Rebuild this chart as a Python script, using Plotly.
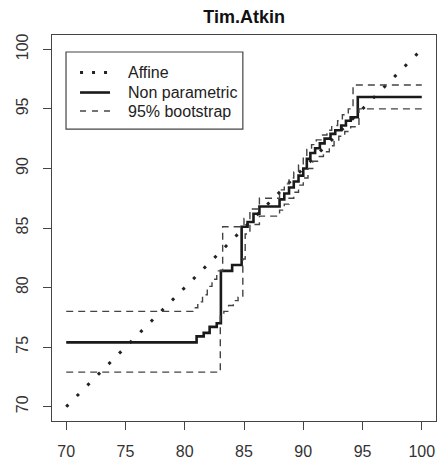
import plotly.graph_objects as go

# Affine fit (identity line over the score range)
affine_x = [70, 100]
affine_y = [70, 100]

# Non-parametric step estimate: y changes at each x
np_x = [70, 81.0, 81.6, 82.1, 82.7, 83.05, 84.0, 84.8, 85.3, 85.8, 86.3, 88.0, 88.4,
        88.8, 89.2, 89.6, 90.0, 90.3, 90.6, 91.0, 91.4, 91.8, 92.3, 92.7, 93.2, 93.6,
        94.0, 94.6, 100]
np_y = [75.4, 75.9, 76.2, 76.7, 77.0, 81.4, 81.9, 85.1, 85.5, 86.2, 86.8, 87.4, 87.9,
        88.4, 88.9, 89.4, 90.0, 90.8, 91.3, 91.7, 92.1, 92.5, 92.9, 93.2, 93.6, 94.0,
        94.3, 96.0, 96.0]

# 95% bootstrap band, upper bound
up_x = [70, 80.7, 81.1, 81.5, 81.9, 82.3, 82.7, 83.2, 85.0, 85.5, 86.3, 88.0, 88.4,
        88.8, 89.2, 89.6, 90.0, 90.3, 90.7, 91.1, 91.5, 92.0, 92.4, 92.9, 93.3, 93.8,
        94.2, 100]
up_y = [78.0, 78.3, 78.8, 79.4, 80.1, 80.7, 81.4, 85.1, 85.8, 86.6, 87.5, 88.2, 88.7,
        89.2, 89.7, 90.3, 91.0, 91.6, 92.0, 92.4, 92.8, 93.2, 93.6, 94.0, 94.5, 95.0,
        97.0, 97.0]

# 95% bootstrap band, lower bound
lo_x = [70, 83.0, 83.3, 83.7, 84.1, 84.5, 84.9, 85.1, 85.5, 86.3, 88.0, 88.4, 88.8,
        89.2, 89.6, 90.0, 90.4, 90.8, 91.2, 91.7, 92.2, 92.6, 93.0, 93.5, 94.0, 94.7,
        100]
lo_y = [72.9, 77.6, 78.0, 78.5, 78.9, 79.2, 82.4, 84.5, 85.3, 86.0, 86.5, 87.0, 87.5,
        88.0, 88.6, 89.2, 90.0, 90.6, 91.0, 91.4, 91.9, 92.3, 92.7, 93.1, 93.5, 95.0,
        95.0]

ticks = [70, 75, 80, 85, 90, 95, 100]
legend_labels = ["Affine", "Non parametric", "95% bootstrap"]

FONT = "Liberation Sans"
DOT = dict(color="#222222", width=3, dash="3px,12px")
SOLID = dict(color="#1a1a1a", width=2.6)
DASH = dict(color="#444444", width=1.4, dash="7px,5px")

fig = go.Figure()
fig.add_trace(go.Scatter(x=affine_x, y=affine_y, mode="lines", line=DOT))
fig.add_trace(go.Scatter(x=np_x, y=np_y, mode="lines", line=dict(**SOLID, shape="hv")))
fig.add_trace(go.Scatter(x=up_x, y=up_y, mode="lines", line=dict(**DASH, shape="hv")))
fig.add_trace(go.Scatter(x=lo_x, y=lo_y, mode="lines", line=dict(**DASH, shape="hv")))

# Legend box drawn in the upper-left corner of the panel (paper coordinates)
fig.add_shape(type="rect", xref="paper", yref="paper",
              x0=0.0365, x1=0.497, y0=0.756, y1=0.956,
              line=dict(color="#444444", width=1.2), fillcolor="white", layer="above")
row_y = [0.903, 0.851, 0.803]
sample_styles = [dict(DOT, dash="3px,9px"), SOLID, dict(DASH, dash="6px,6px")]
for ry, style, label in zip(row_y, sample_styles, legend_labels):
    fig.add_shape(type="line", xref="paper", yref="paper",
                  x0=0.073, x1=0.151, y0=ry, y1=ry, line=style, layer="above")
    fig.add_annotation(xref="paper", yref="paper", x=0.193, y=ry, text=label,
                       showarrow=False, xanchor="left", yanchor="middle",
                       font=dict(family=FONT, size=16, color="#222222"))

axis_common = dict(
    range=[68.8, 101.2], tickvals=ticks, ticks="outside", ticklen=8,
    tickcolor="#444444", showline=True, linecolor="#444444", linewidth=1,
    mirror=True, showgrid=False, zeroline=False,
    tickfont=dict(family=FONT, size=16, color="#333333"),
)

fig.update_layout(
    width=440, height=468,
    margin=dict(l=52, r=4, t=35, b=47),
    paper_bgcolor="white", plot_bgcolor="white",
    showlegend=False,
    title=dict(text="<b>Tim.Atkin</b>", x=0.555, xanchor="center", y=0.965,
               yanchor="middle",
               font=dict(family=FONT, size=18, color="#111111")),
    xaxis=dict(**axis_common, ticklabelstandoff=8),
    yaxis=dict(**axis_common, tickangle=-90, ticklabelstandoff=9),
)

fig.write_html("out.html")
